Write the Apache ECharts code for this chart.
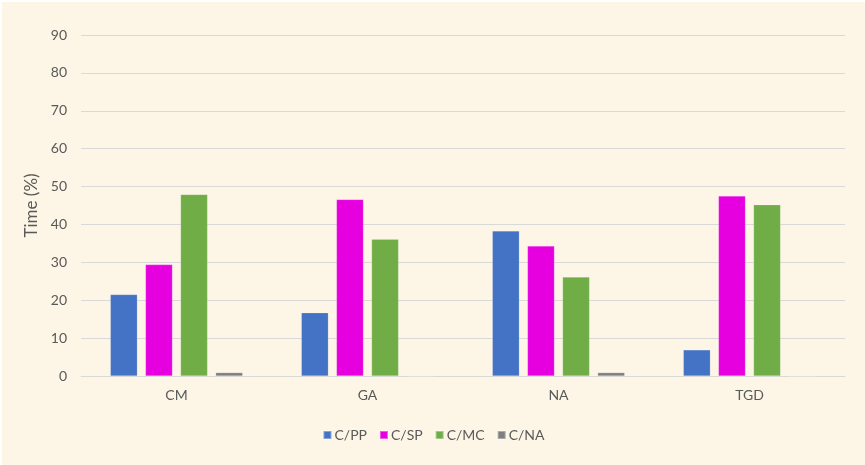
<!DOCTYPE html>
<html>
<head>
<meta charset="utf-8">
<script src="https://cdn.jsdelivr.net/npm/echarts@6/dist/echarts.min.js"></script>
<style>
html,body{margin:0;padding:0;background:#ffffff;}
#chart{position:absolute;left:2px;top:2px;width:863px;height:463px;background:#fdf6e6;}
</style>
</head>
<body>
<div id="chart"></div>
<script>
var categories = ["CM", "GA", "NA", "TGD"];
var seriesNames = ["C/PP", "C/SP", "C/MC", "C/NA"];
var cPP = [21.5, 16.7, 38.3, 6.9];
var cSP = [29.4, 46.6, 34.3, 47.5];
var cMC = [47.9, 36.1, 26.1, 45.2];
var cNA = [0.9, 0, 0.9, 0];
var yTicks = [0, 10, 20, 30, 40, 50, 60, 70, 80, 90];

var colors = ["#4472c4", "#e600e0", "#70ad47", "#7f7f7f"];
var values = [cPP, cSP, cMC, cNA];
var font = "Lato, 'Open Sans', sans-serif";

var chart = echarts.init(document.getElementById('chart'), null, {renderer: 'canvas'});
chart.setOption({
  animation: false,
  backgroundColor: '#fdf6e6',
  color: colors,
  grid: {left: 79, right: 20, top: 33, bottom: 89, containLabel: false},
  legend: {
    data: seriesNames,
    bottom: 18,
    left: 'center',
    itemWidth: 8,
    itemHeight: 8,
    itemGap: 12,
    icon: 'rect',
    textStyle: {color: '#595959', fontSize: 14, fontFamily: font, padding: [0,0,0,-2]}
  },
  xAxis: {
    type: 'category',
    data: categories,
    axisLine: {show: true, lineStyle: {color: '#d9d9d9', width: 1}},
    axisTick: {show: false},
    axisLabel: {color: '#595959', fontSize: 14, fontFamily: font, margin: 12}
  },
  yAxis: {
    type: 'value',
    min: yTicks[0],
    max: yTicks[yTicks.length - 1],
    interval: 10,
    name: 'Time (%)',
    nameLocation: 'middle',
    nameGap: 29,
    nameTextStyle: {color: '#595959', fontSize: 17, fontFamily: font},
    axisLine: {show: false},
    axisTick: {show: false},
    splitLine: {lineStyle: {color: '#d9d9d9', width: 1}},
    axisLabel: {color: '#595959', fontSize: 14, fontFamily: font, margin: 14}
  },
  series: seriesNames.map(function (n, i) {
    return {
      name: n,
      type: 'bar',
      data: values[i],
      barWidth: 27,
      barGap: '30%',
      itemStyle: {color: colors[i], borderColor: 'rgba(255,255,255,0.35)', borderWidth: 0.5}
    };
  })
});
</script>
</body>
</html>
